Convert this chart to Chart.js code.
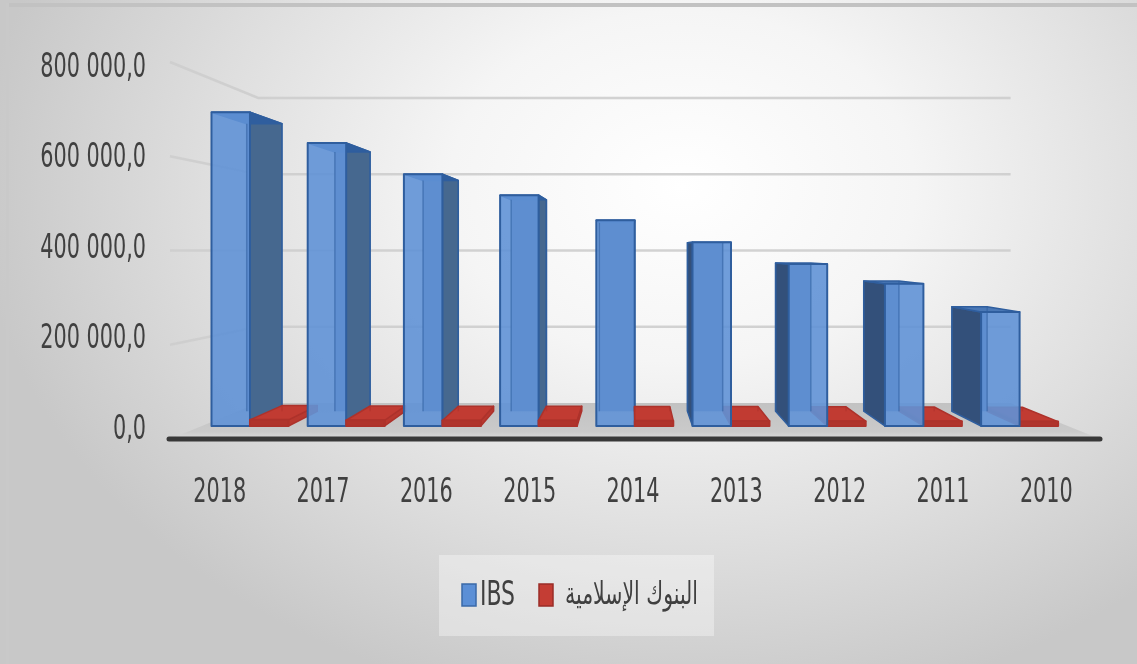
<!DOCTYPE html>
<html>
<head>
<meta charset="utf-8">
<script src="https://cdn.jsdelivr.net/npm/chart.js@4/dist/chart.umd.min.js"></script>
<style>
    html, body { margin: 0; padding: 0; }
    #cadre {
        position: relative;
        width: 1137px;
        height: 664px;
        overflow: hidden;
        background: radial-gradient(ellipse 62% 80% at 60% 28%, #ffffff 0%, #f5f5f5 33%, #dedede 68%, #c8c8c8 100%);
    }
    #bordHaut { position: absolute; left: 6px; right: 0; top: 3px; height: 4px; background: #c2c2c2; }
    #bordGauche { position: absolute; left: 6px; top: 3px; bottom: 0; width: 3px; background: #c9c9c9; }
    canvas { position: absolute; left: 0; top: 0; }
</style>
</head>
<body>
<div id="cadre">
    <div id="bordHaut"></div>
    <div id="bordGauche"></div>
    <canvas id="graphique" width="1137" height="664"></canvas>
</div>
<script>
const annees = ["2018", "2017", "2016", "2015", "2014", "2013", "2012", "2011", "2010"];
const valeursIBS = [715000, 645000, 574000, 526000, 469000, 419000, 369000, 324000, 260000];
const valeursBanques = [14000, 13000, 12500, 12500, 12000, 11500, 11000, 10500, 10000];
const ticksY = [0, 200000, 400000, 600000, 800000];
const legendeIBS = "IBS";
const legendeBanques = "البنوك الإسلامية";

const POLICE = "'DejaVu Sans Condensed', 'DejaVu Sans', sans-serif";
const GRIS_TEXTE = "#404040";
const TAILLE = 33;
const ETIREMENT = 0.70; // police étroite type Calibri

// perspective façon Excel 3D : point de fuite, profondeur des barres et du mur
const fuite = { x: 632, y: 250 };
const S_MUR = 0.809, S_AVANT = 0.931, S_ARRIERE = 0.853;

function proj(x, y, s) {
    return [fuite.x + (x - fuite.x) * s, fuite.y + (y - fuite.y) * s];
}

function formaterNombre(v) {
    const s = String(Math.round(v)).replace(/\B(?=(\d{3})+(?!\d))/g, " ");
    return s + ",0";
}

// le plan avant est un peu plus haut que les étiquettes de l'axe
function versPlanAvant(chart, y) {
    const a = chart.chartArea;
    const bas = a.bottom + 9, haut = a.top - 6;
    return bas - (a.bottom - y) * (bas - haut) / (a.bottom - a.top);
}

function texteEtroit(ctx, texte, x, y, alignement, etirement) {
    ctx.save();
    ctx.translate(x, y);
    ctx.scale(etirement, 1);
    ctx.textAlign = alignement;
    ctx.textBaseline = "middle";
    ctx.fillText(texte, 0, 0);
    ctx.restore();
}

function quad(ctx, pts, remplissage, trait) {
    ctx.beginPath();
    ctx.moveTo(pts[0][0], pts[0][1]);
    for (let i = 1; i < pts.length; i++) ctx.lineTo(pts[i][0], pts[i][1]);
    ctx.closePath();
    if (remplissage) { ctx.fillStyle = remplissage; ctx.fill(); }
    if (trait) { ctx.strokeStyle = trait; ctx.stroke(); }
}

function dessinerPave(ctx, xG, xD, yH, yB, c) {
    const f = [proj(xG, yH, S_AVANT), proj(xD, yH, S_AVANT), proj(xD, yB, S_AVANT), proj(xG, yB, S_AVANT)];
    const b = [proj(xG, yH, S_ARRIERE), proj(xD, yH, S_ARRIERE), proj(xD, yB, S_ARRIERE), proj(xG, yB, S_ARRIERE)];
    ctx.lineWidth = 1.5;
    ctx.lineJoin = "round";
    quad(ctx, b, c.arriere, null);
    if (xD < fuite.x) quad(ctx, [f[1], b[1], b[2], f[2]], c.coteD, c.bord);
    if (xG > fuite.x) quad(ctx, [f[0], b[0], b[3], f[3]], c.coteG, c.bord);
    if (yH > fuite.y) quad(ctx, [f[0], f[1], b[1], b[0]], c.dessus, c.bord);
    else quad(ctx, [f[0], f[1], b[1], b[0]], c.bord, c.bord);
    quad(ctx, f, c.avant, null);
    // arêtes arrière vues à travers la face avant
    ctx.save();
    ctx.globalAlpha = 0.55;
    ctx.strokeStyle = c.bord;
    ctx.beginPath();
    ctx.moveTo(b[0][0], b[0][1]); ctx.lineTo(b[3][0], b[3][1]);
    ctx.moveTo(b[1][0], b[1][1]); ctx.lineTo(b[2][0], b[2][1]);
    ctx.stroke();
    ctx.restore();
    ctx.lineWidth = 2;
    quad(ctx, f, null, c.bord);
}

const styleBleu = {
    avant: "rgba(96, 146, 214, 0.9)", arriere: "#4a6c9c", coteD: "#46688f", coteG: "#33507a",
    dessus: "#4a78b6", bord: "#2f5e9e"
};
const styleRouge = {
    avant: "#b0342c", arriere: "#b3362e", coteD: "#b8382f", coteG: "#9a2b24",
    dessus: "#c13b32", bord: "#ad322b"
};

const plugin3D = {
    id: "vue3d",
    beforeDatasetsDraw(chart) {
        const ctx = chart.ctx;
        const a = chart.chartArea;
        const yScale = chart.scales.y;
        const sol = versPlanAvant(chart, yScale.getPixelForValue(0));
        ctx.save();

        // sol
        const solPts = [proj(a.left, sol, 1), proj(a.right, sol, 1), proj(a.right, sol, S_MUR), proj(a.left, sol, S_MUR)];
        const g = ctx.createLinearGradient(0, solPts[2][1], 0, sol);
        g.addColorStop(0, "#c2c2c2");
        g.addColorStop(0.8, "#cacaca");
        g.addColorStop(1, "#dcdcdc");
        quad(ctx, solPts, g, null);

        // quadrillage sur le mur gauche et le mur du fond
        ctx.lineWidth = 2.5;
        ctx.strokeStyle = "rgba(205, 205, 205, 0.9)";
        ticksY.forEach(v => {
            if (v === 0) return;
            const y = versPlanAvant(chart, yScale.getPixelForValue(v));
            const p0 = proj(a.left, y, 1), p1 = proj(a.left, y, S_MUR), p2 = proj(a.right, y, S_MUR);
            ctx.beginPath();
            ctx.moveTo(p0[0], p0[1]);
            ctx.lineTo(p1[0], p1[1]);
            ctx.lineTo(p2[0], p2[1]);
            ctx.stroke();
        });

        // barres
        const metaIBS = chart.getDatasetMeta(0);
        const metaBanques = chart.getDatasetMeta(1);
        const pave = (el, style) => {
            dessinerPave(ctx, el.x - el.width / 2, el.x + el.width / 2,
                versPlanAvant(chart, el.y), versPlanAvant(chart, el.base), style);
        };
        metaIBS.data.forEach((el, i) => {
            const elR = metaBanques.data[i];
            if (el.x < fuite.x) { pave(el, styleBleu); pave(elR, styleRouge); }
            else { pave(elR, styleRouge); pave(el, styleBleu); }
        });

        // axe horizontal
        ctx.strokeStyle = "#383838";
        ctx.lineWidth = 5;
        ctx.lineCap = "round";
        ctx.beginPath();
        ctx.moveTo(a.left - 1, sol);
        ctx.lineTo(a.right, sol);
        ctx.stroke();
        ctx.restore();
        return false;
    },
    afterDraw(chart) {
        const ctx = chart.ctx;
        const ds = chart.data.datasets;
        const xScale = chart.scales.x, yScale = chart.scales.y;
        ctx.save();
        ctx.fillStyle = GRIS_TEXTE;
        ctx.font = TAILLE + "px " + POLICE;

        // étiquettes des axes
        yScale.ticks.forEach(t => {
            texteEtroit(ctx, formaterNombre(t.value), yScale.right - 24, yScale.getPixelForValue(t.value), "right", ETIREMENT);
        });
        xScale.ticks.forEach((t, i) => {
            texteEtroit(ctx, chart.data.labels[i], xScale.getPixelForTick(i) - 2, 493, "center", ETIREMENT);
        });

        // légende
        ctx.fillStyle = "rgba(255, 255, 255, 0.35)";
        ctx.fillRect(439, 555, 275, 81);
        const carre = (x, couleur, bord) => {
            ctx.fillStyle = couleur;
            ctx.fillRect(x, 584, 14, 22);
            ctx.strokeStyle = bord;
            ctx.lineWidth = 1.5;
            ctx.strokeRect(x, 584, 14, 22);
        };
        carre(462, ds[0].backgroundColor, "#3a69a8");
        carre(539, ds[1].backgroundColor, "#9a2d27");

        ctx.fillStyle = GRIS_TEXTE;
        texteEtroit(ctx, ds[0].label, 480, 596, "left", 0.74);
        ctx.font = "31px " + POLICE;
        const largeur = ctx.measureText(ds[1].label).width;
        texteEtroit(ctx, ds[1].label, 565, 596, "left", 133 / largeur);
        ctx.restore();
    }
};

new Chart(document.querySelector("#graphique"), {
    type: "bar",
    data: {
        labels: annees,
        datasets: [
            { label: legendeIBS, data: valeursIBS, backgroundColor: "#5b8fd6" },
            { label: legendeBanques, data: valeursBanques, backgroundColor: "#c43d34" }
        ]
    },
    options: {
        responsive: false,
        animation: false,
        layout: { padding: { top: 68, right: 37, left: 0, bottom: 0 } },
        datasets: { bar: { categoryPercentage: 0.8, barPercentage: 1.0 } },
        plugins: { legend: { display: false }, tooltip: { enabled: false } },
        scales: {
            y: {
                min: 0,
                max: 800000,
                afterBuildTicks: s => { s.ticks = ticksY.map(v => ({ value: v })); },
                afterFit: s => { s.width = 170; },
                grid: { display: false },
                border: { display: false },
                ticks: { display: false }
            },
            x: {
                afterFit: s => { s.height = 234; },
                grid: { display: false },
                border: { display: false },
                ticks: { display: false }
            }
        }
    },
    plugins: [plugin3D]
});
</script>
</body>
</html>
